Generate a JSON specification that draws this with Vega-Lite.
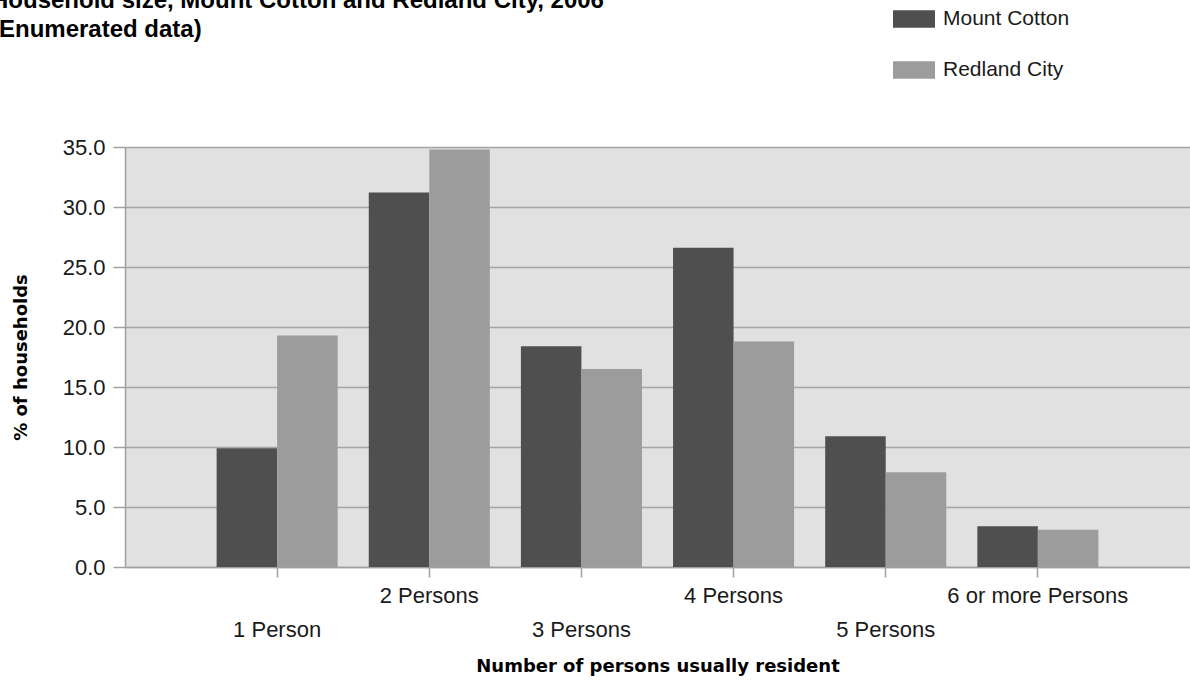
{
  "$schema": "https://vega.github.io/schema/vega-lite/v6.json",
  "width": 1065,
  "height": 420,
  "autosize": {"type": "none"},
  "padding": {"left": 125, "top": 147, "right": 0, "bottom": 117},
  "background": "white",
  "title": {
    "text": "Household size, Mount Cotton and Redland City, 2006",
    "subtitle": "\u00a0(Enumerated data)",
    "anchor": "start",
    "frame": "group",
    "dx": -134,
    "dy": 48,
    "font": "Liberation Sans",
    "fontSize": 24,
    "fontWeight": "bold",
    "color": "#000000",
    "subtitleFont": "Liberation Sans",
    "subtitleFontSize": 24,
    "subtitleFontWeight": "bold",
    "subtitleColor": "#000000",
    "subtitlePadding": 5
  },
  "data": {
    "values": [
      {"household": "1 Person", "area": "Mount Cotton", "pct": 9.9},
      {"household": "1 Person", "area": "Redland City", "pct": 19.3},
      {"household": "2 Persons", "area": "Mount Cotton", "pct": 31.2},
      {"household": "2 Persons", "area": "Redland City", "pct": 34.8},
      {"household": "3 Persons", "area": "Mount Cotton", "pct": 18.4},
      {"household": "3 Persons", "area": "Redland City", "pct": 16.5},
      {"household": "4 Persons", "area": "Mount Cotton", "pct": 26.6},
      {"household": "4 Persons", "area": "Redland City", "pct": 18.8},
      {"household": "5 Persons", "area": "Mount Cotton", "pct": 10.9},
      {"household": "5 Persons", "area": "Redland City", "pct": 7.9},
      {"household": "6 or more Persons", "area": "Mount Cotton", "pct": 3.4},
      {"household": "6 or more Persons", "area": "Redland City", "pct": 3.1}
    ]
  },
  "mark": {"type": "bar"},
  "encoding": {
    "x": {
      "field": "household",
      "type": "nominal",
      "sort": null,
      "scale": {"paddingInner": 0, "paddingOuter": 0.5},
      "axis": {
        "title": "Number of persons usually resident",
        "titleFont": "DejaVu Sans",
        "titleFontSize": 18,
        "titleFontWeight": "bold",
        "titleColor": "#000000",
        "titlePadding": 17,
        "labelFont": "Liberation Sans",
        "labelFontSize": 22,
        "labelColor": "#1a1a1a",
        "labelAngle": 0,
        "labelPadding": 8,
        "labelOverlap": false,
        "labelBound": false,
        "labelFlush": false,
        "labelLimit": 0,
        "labelLineHeight": 34,
        "labelBaseline": "top",
        "labelExpr": "indexof(['1 Person','3 Persons','5 Persons'], datum.value) >= 0 ? ['', datum.value] : datum.value",
        "tickColor": "#a0a0a0",
        "tickSize": 10,
        "tickWidth": 1.5,
        "domainColor": "#a0a0a0",
        "domainWidth": 1.5
      }
    },
    "xOffset": {
      "field": "area",
      "type": "nominal",
      "sort": null,
      "scale": {"paddingInner": 0, "paddingOuter": 0.257}
    },
    "y": {
      "field": "pct",
      "type": "quantitative",
      "scale": {"domain": [0, 35], "nice": false},
      "axis": {
        "title": "% of households",
        "titleFont": "DejaVu Sans",
        "titleFontSize": 18,
        "titleFontWeight": "bold",
        "titleColor": "#000000",
        "titlePadding": 32,
        "values": [0, 5, 10, 15, 20, 25, 30, 35],
        "format": ".1f",
        "labelFont": "Liberation Sans",
        "labelFontSize": 22,
        "labelColor": "#1a1a1a",
        "labelPadding": 8,
        "tickSize": 12,
        "tickColor": "#a0a0a0",
        "tickWidth": 1.5,
        "domainColor": "#a0a0a0",
        "domainWidth": 1.5,
        "grid": true,
        "gridColor": "#a4a4a4",
        "gridWidth": 1.5
      }
    },
    "color": {
      "field": "area",
      "type": "nominal",
      "scale": {"domain": ["Mount Cotton", "Redland City"], "range": ["#4f4f4f", "#9c9c9c"]},
      "legend": {
        "title": null,
        "orient": "none",
        "legendX": 768,
        "legendY": -149,
        "padding": 0,
        "direction": "vertical",
        "symbolType": "M-1,-0.42H1V0.42H-1Z",
        "symbolSize": 1764,
        "symbolStrokeWidth": 0,
        "symbolOpacity": 1,
        "labelFont": "Liberation Sans",
        "labelFontSize": 21,
        "labelColor": "#1a1a1a",
        "labelOffset": 8,
        "rowPadding": 20
      }
    }
  },
  "config": {
    "view": {"fill": "#e1e1e1", "stroke": null}
  }
}
